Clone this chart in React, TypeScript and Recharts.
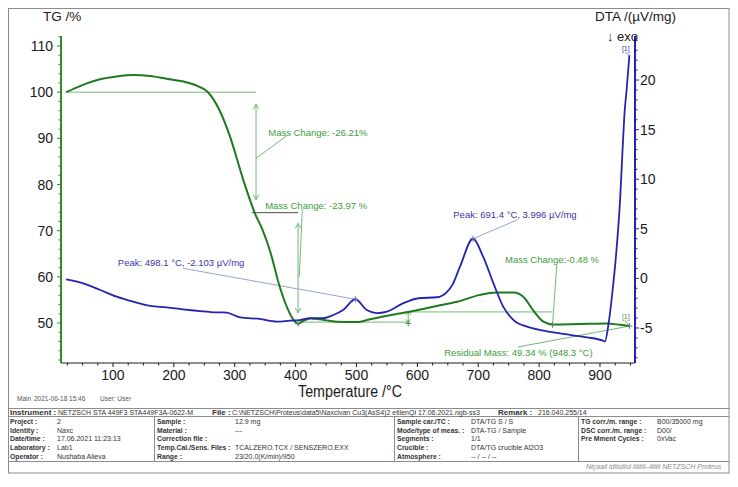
import React from 'react';
import { ComposedChart, Line, XAxis, YAxis, ReferenceLine, ReferenceDot } from 'recharts';

const FONT = '"Liberation Sans", Arial, Helvetica, sans-serif';

// TG: sample mass in % vs furnace temperature in °C
const tgTemps = [23, 40, 57, 79, 106, 133, 161, 188, 216, 243, 256, 275, 292, 314, 334, 345, 358, 374, 390, 398, 404, 412, 424, 440, 467, 500, 522, 555, 593, 632, 665, 703, 730, 758, 774, 790, 807, 823, 867, 911, 933, 948.3];
const tgMass = [100, 101, 101.9, 102.8, 103.4, 103.7, 103.5, 102.9, 102.3, 101.1, 100, 96.1, 90.5, 81, 73.5, 70.4, 65.6, 57.8, 52.2, 50.4, 49.8, 50.4, 51.0, 50.8, 50.3, 50.2, 50.8, 51.7, 52.6, 53.7, 54.6, 56.1, 56.6, 56.6, 55.7, 52.8, 50.3, 49.7, 49.8, 49.9, 49.6, 49.34];

// DTA signal in µV/mg (exo down)
const dtaTemps = [23, 51, 79, 106, 133, 161, 188, 215, 243, 270, 287, 298, 309, 341, 369, 391, 407, 424, 445, 462, 478, 498.1, 517, 533, 550, 577, 602, 632, 648, 658, 670, 691.4, 708, 725, 741, 758, 780, 807, 851, 878, 905, 908, 914, 920, 927, 933, 937, 940, 944, 948.3];
const dtaSignal = [-0.1, -0.5, -1.17, -1.84, -2.35, -2.78, -2.92, -3.12, -3.29, -3.42, -3.45, -3.69, -3.92, -4.09, -4.36, -4.26, -4.2, -4.0, -4.0, -3.69, -3.19, -2.103, -3.19, -3.5, -3.35, -2.5, -2.0, -1.9, -1.4, -0.6, 1.18, 3.996, 2.19, -0.5, -2.85, -4.2, -4.87, -5.27, -5.7, -5.94, -6.28, -6.38, -4.6, -1.6, 2.8, 7.9, 12.9, 16.4, 19.2, 22.5];

const tempMajor = [100, 200, 300, 400, 500, 600, 700, 800, 900];
const tgMajor = [50, 60, 70, 80, 90, 100, 110];
const dtaMajor = [-5, 0, 5, 10, 15, 20];

const tempDomain: [number, number] = [14.6, 957.5];
const tgDomain: [number, number] = [41.34, 112.17];
const dtaDomain: [number, number] = [-8.53, 24.44];

const steps = (from: number, to: number, step: number) => {
  const out: number[] = [];
  for (let v = from; v <= to + 1e-9; v += step) out.push(Math.round(v * 100) / 100);
  return out;
};
const tempTicks = steps(25, 950, 25);
const tgTicks = steps(42, 112, 2);
const dtaTicks = steps(-8, 24, 1);

const tgData = tgTemps.map((t, i) => ({ t, v: tgMass[i] }));
const dtaData = dtaTemps.map((t, i) => ({ t, v: dtaSignal[i] }));

const TG_LINE = '#1f7a1f';
const TG_AXIS = '#2c8f2c';
const NOTE_GREEN = '#3d9c3d';
const GUIDE_GREEN = '#74b874';
const DTA_LINE = '#2424b0';
const DTA_AXIS = '#2222b4';
const NOTE_BLUE = '#3636a6';
const GUIDE_BLUE = '#95a3d6';
const DARK = '#1a1a1a';

function TempTick({ x, y, payload }: any) {
  const major = tempMajor.includes(payload.value);
  return (
    <g>
      <line x1={x} y1={y} x2={x} y2={y + (major ? 4 : 2.5)} stroke={DARK} />
      {major && (
        <text x={x} y={y + 16.5} textAnchor="middle" fontSize={14} fontFamily={FONT} fill={DARK}>
          {payload.value}
        </text>
      )}
    </g>
  );
}

function TgTick({ x, y, payload }: any) {
  const major = tgMajor.includes(payload.value);
  return (
    <g>
      <line x1={x - (major ? 4 : 2.5)} y1={y} x2={x} y2={y} stroke={TG_AXIS} />
      {major && (
        <text x={x - 8} y={y + 5} textAnchor="end" fontSize={14} fontFamily={FONT} fill={DARK}>
          {payload.value}
        </text>
      )}
    </g>
  );
}

function DtaTick({ x, y, payload }: any) {
  const major = dtaMajor.includes(payload.value);
  return (
    <g>
      <line x1={x} y1={y} x2={x + (major ? 4 : 2.5)} y2={y} stroke={DTA_AXIS} />
      {major && (
        <text x={x + 5} y={y + 5} textAnchor="start" fontSize={14} fontFamily={FONT} fill={DARK}>
          {payload.value}
        </text>
      )}
    </g>
  );
}

// vertical double-headed arrow between two points
function ArrowShape(props: any) {
  const { x1, y1, x2, y2, stroke } = props;
  const top = Math.min(y1, y2);
  const bottom = Math.max(y1, y2);
  const h = Math.min(5, (bottom - top) / 3);
  const w = h * 0.55;
  return (
    <g stroke={stroke} strokeWidth={1} fill="none">
      <line x1={x1} y1={y1} x2={x2} y2={y2} />
      <polyline points={`${x1 - w},${top + h} ${x1},${top} ${x1 + w},${top + h}`} />
      <polyline points={`${x1 - w},${bottom - h} ${x1},${bottom} ${x1 + w},${bottom - h}`} />
    </g>
  );
}

const seg = (key: string, axis: string, x1: number, y1: number, x2: number, y2: number, color: string, arrow = false) => (
  <ReferenceLine
    key={key}
    yAxisId={axis}
    segment={[{ x: x1, y: y1 }, { x: x2, y: y2 }]}
    stroke={color}
    strokeWidth={1}
    ifOverflow="visible"
    shape={arrow ? ArrowShape : undefined}
  />
);

const note = (key: string, axis: string, x: number, y: number, text: string, color: string, size = 9.5) => (
  <ReferenceDot
    key={key}
    yAxisId={axis}
    x={x}
    y={y}
    r={0}
    ifOverflow="visible"
    shape={(p: any) => (
      <text x={p.cx} y={p.cy} fill={color} fontSize={size} fontFamily={FONT}>
        {text}
      </text>
    )}
  />
);

const cross = (key: string, axis: string, x: number, y: number, color: string) => (
  <ReferenceDot
    key={key}
    yAxisId={axis}
    x={x}
    y={y}
    r={0}
    ifOverflow="visible"
    shape={(p: any) => (
      <path d={`M${p.cx - 3},${p.cy}H${p.cx + 3}M${p.cx},${p.cy - 3}V${p.cy + 3}`} stroke={color} strokeWidth={1} />
    )}
  />
);

const infoRows = [
  ['Project :', '2', 'Sample :', '12.9 mg', 'Sample car./TC :', 'DTA/TG S / S', 'TG corr./m. range :', 'B00/35000 mg'],
  ['Identity :', 'Naxc', 'Material :', '---', 'Mode/type of meas. :', 'DTA-TG / Sample', 'DSC corr./m. range :', 'D00/'],
  ['Date/time :', '17.06.2021 11:23:13', 'Correction file :', '', 'Segments :', '1/1', 'Pre Mment Cycles :', '0xVac'],
  ['Laboratory :', 'Lab1', 'Temp.Cal./Sens. Files :', 'TCALZERO.TCX / SENSZERO.EXX', 'Crucible :', 'DTA/TG crucible Al2O3', '', ''],
  ['Operator :', 'Nushaba Alieva', 'Range :', '23/20.0(K/min)/950', 'Atmosphere :', '-- / -- / --', '', ''],
];
const labelX = [2, 149, 389, 573];
const valueX = [49, 227, 463, 649];

function InfoTable() {
  const ink = '#333';
  return (
    <svg width={722} height={66} style={{ position: 'absolute', left: 0, top: 400 }} fontFamily={FONT}>
      <defs>
        <clipPath id="tbl">
          <rect x={0} y={0} width={721} height={66} />
        </clipPath>
      </defs>
      <g stroke="#8c8c8c" strokeWidth={1} fill="none">
        <rect x={0.5} y={0.5} width={720.5} height={64.5} />
        <line x1={0} y1={8.5} x2={721} y2={8.5} />
        <line x1={0} y1={53.5} x2={721} y2={53.5} />
        <line x1={146.5} y1={8.5} x2={146.5} y2={53.5} />
        <line x1={386.5} y1={8.5} x2={386.5} y2={53.5} />
        <line x1={570.5} y1={8.5} x2={570.5} y2={53.5} />
      </g>
      <g fill={ink}>
        <text x={2} y={7} fontSize={8} fontWeight="bold">Instrument :</text>
        <text x={50} y={7} fontSize={7}>NETZSCH STA 449F3 STA449F3A-0622-M</text>
        <text x={204} y={7} fontSize={8} fontWeight="bold">File :</text>
        <text x={224} y={7} fontSize={7}>C:\NETZSCH\Proteus\data5\Naxcivan Cu3(AsS4)2 etilenQl 17.06.2021.ngb-ss3</text>
        <text x={490} y={7} fontSize={8} fontWeight="bold">Remark :</text>
        <text x={530} y={7} fontSize={7}>216.040.255/14</text>
        {infoRows.map((row, r) => (
          <g key={r}>
            {labelX.map((lx, c) => (
              <g key={c}>
                <text x={lx} y={15.8 + r * 8.75} fontSize={6.8} fontWeight="bold">{row[c * 2]}</text>
                <text x={valueX[c]} y={15.8 + r * 8.75} fontSize={7}>{row[c * 2 + 1]}</text>
              </g>
            ))}
          </g>
        ))}
      </g>
      <g clipPath="url(#tbl)">
        <text x={578} y={61} fontSize={7} fontStyle="italic" fill="#8a8a8a">Niçaail idiisiiiol iiiiiiii–iiiiiii NETZSCH Proteus</text>
      </g>
    </svg>
  );
}

export default function App() {
  return (
    <div style={{ position: 'relative', width: 722, height: 466, fontFamily: FONT }}>
      <div style={{ position: 'absolute', left: 0, top: 0 }}>
        <ComposedChart width={721} height={400} margin={{ top: 28, right: 49, bottom: 15, left: 8 }}>
          <XAxis
            type="number"
            dataKey="t"
            domain={tempDomain}
            allowDataOverflow
            ticks={tempTicks}
            interval={0}
            height={30}
            tickSize={0}
            tickMargin={0}
            tickLine={false}
            axisLine={{ stroke: DARK }}
            tick={(p: any) => <TempTick {...p} />}
          />
          <YAxis
            yAxisId="tg"
            orientation="left"
            width={45}
            domain={tgDomain}
            allowDataOverflow
            ticks={tgTicks}
            interval={0}
            tickSize={0}
            tickMargin={0}
            tickLine={false}
            axisLine={{ stroke: TG_AXIS, strokeWidth: 2 }}
            tick={(p: any) => <TgTick {...p} />}
          />
          <YAxis
            yAxisId="dta"
            orientation="right"
            width={45}
            domain={dtaDomain}
            allowDataOverflow
            ticks={dtaTicks}
            interval={0}
            tickSize={0}
            tickMargin={0}
            tickLine={false}
            axisLine={{ stroke: DTA_AXIS, strokeWidth: 2 }}
            tick={(p: any) => <DtaTick {...p} />}
          />

          {/* TG step evaluation */}
          {seg('h100', 'tg', 23, 100, 335, 100, GUIDE_GREEN)}
          {seg('a1', 'tg', 335, 97.4, 335, 76.7, GUIDE_GREEN, true)}
          {seg('l1', 'tg', 335, 85.7, 386, 90.6, GUIDE_GREEN)}
          {seg('h74', 'tg', 328, 73.9, 404, 73.9, '#4a4a4a')}
          {seg('a2', 'tg', 404, 71.6, 404, 52.2, GUIDE_GREEN, true)}
          {seg('l2', 'tg', 411, 74.6, 406, 60, GUIDE_GREEN)}
          {seg('h50', 'tg', 404, 50.2, 585, 50.2, GUIDE_GREEN)}
          {seg('a3', 'tg', 585, 52.6, 585, 49.9, GUIDE_GREEN, true)}
          {seg('h52', 'tg', 585, 52.4, 822, 52.4, GUIDE_GREEN)}
          {seg('l3', 'tg', 829, 62.6, 822, 49.5, GUIDE_GREEN)}
          {seg('l4', 'tg', 765, 44.8, 948.3, 49.34, GUIDE_GREEN)}
          {seg('l5', 'tg', 941, 50.6, 948.3, 49.34, GUIDE_GREEN)}
          {cross('c1', 'tg', 404, 49.9, '#5a8a5a')}
          {cross('c2', 'tg', 585, 49.9, '#5a8a5a')}
          {cross('c3', 'tg', 822, 49.6, '#5a8a5a')}
          {cross('c4', 'tg', 948.3, 49.34, '#5a8a5a')}

          {/* DTA peak evaluation */}
          {seg('p1', 'dta', 215, 1.02, 498.1, -2.103, GUIDE_BLUE)}
          {seg('p2', 'dta', 764, 5.9, 691.4, 3.996, GUIDE_BLUE)}
          {seg('p3', 'dta', 941, 22.8, 948.3, 22.5, GUIDE_BLUE)}
          {cross('c5', 'dta', 498.1, -2.103, '#6a6aa8')}
          {cross('c6', 'dta', 691.4, 3.996, '#6a6aa8')}

          <Line yAxisId="tg" data={tgData} dataKey="v" type="monotone" stroke={TG_LINE} strokeWidth={2} dot={false} isAnimationActive={false} />
          <Line yAxisId="dta" data={dtaData} dataKey="v" type="monotone" stroke={DTA_LINE} strokeWidth={1.8} dot={false} isAnimationActive={false} />

          {note('n1', 'tg', 355, 90.6, 'Mass Change: -26.21%', NOTE_GREEN)}
          {note('n2', 'tg', 350, 74.6, 'Mass Change: -23.97 %', NOTE_GREEN)}
          {note('n3', 'tg', 744, 63.1, 'Mass Change:-0.48 %', NOTE_GREEN)}
          {note('n4', 'tg', 644, 42.75, 'Residual Mass: 49.34 % (948.3 °C)', NOTE_GREEN)}
          {note('n5', 'tg', 936, 50.9, '[1]', NOTE_GREEN, 7)}
          {note('n6', 'dta', 108, 1.25, 'Peak: 498.1 °C, -2.103 µV/mg', NOTE_BLUE)}
          {note('n7', 'dta', 659, 6.04, 'Peak: 691.4 °C, 3.996 µV/mg', NOTE_BLUE)}
          {note('n8', 'dta', 936, 22.97, '[1]', NOTE_BLUE, 7)}
        </ComposedChart>
      </div>

      <svg width={722} height={401} style={{ position: 'absolute', left: 0, top: 0, pointerEvents: 'none' }} fontFamily={FONT}>
        <rect x={0.5} y={0.5} width={720.5} height={400} fill="none" stroke="#8c8c8c" />
        <text x={35} y={12.5} fontSize={13.5} fill={DARK}>TG /%</text>
        <text x={587} y={12.5} fontSize={13.5} fill={DARK}>DTA /(µV/mg)</text>
        <text x={599} y={33} fontSize={13} fill={DARK}>↓ exo</text>
        <text x={290} y={388.5} fontSize={16} fill={DARK} textLength={104} lengthAdjust="spacingAndGlyphs">Temperature /°C</text>
        <text x={9} y={392.5} fontSize={6.5} fill="#555">Main</text>
        <text x={26} y={392.5} fontSize={6.5} fill="#555">2021-06-18 15:46</text>
        <text x={92} y={392.5} fontSize={6.5} fill="#555">User: User</text>
      </svg>

      <InfoTable />
    </div>
  );
}
